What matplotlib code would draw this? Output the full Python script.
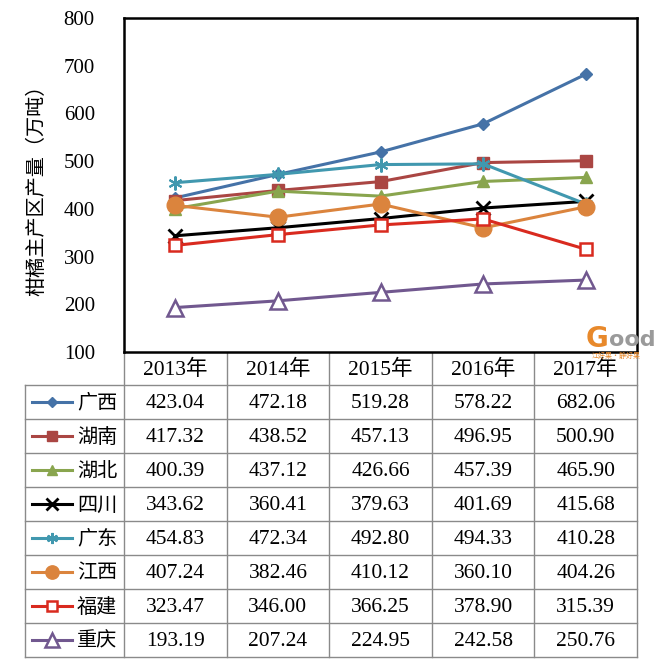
import matplotlib.pyplot as plt
from matplotlib.lines import Line2D

years = ['2013年', '2014年', '2015年', '2016年', '2017年']
regions = ['广西', '湖南', '湖北', '四川', '广东', '江西', '福建', '重庆']
guangxi = [423.04, 472.18, 519.28, 578.22, 682.06]
hunan = [417.32, 438.52, 457.13, 496.95, 500.90]
hubei = [400.39, 437.12, 426.66, 457.39, 465.90]
sichuan = [343.62, 360.41, 379.63, 401.69, 415.68]
guangdong = [454.83, 472.34, 492.80, 494.33, 410.28]
jiangxi = [407.24, 382.46, 410.12, 360.10, 404.26]
fujian = [323.47, 346.00, 366.25, 378.90, 315.39]
chongqing = [193.19, 207.24, 224.95, 242.58, 250.76]
series = [guangxi, hunan, hubei, sichuan, guangdong, jiangxi, fujian, chongqing]
yticks = [100, 200, 300, 400, 500, 600, 700, 800]

# styles per series
styles = [
    dict(color='#4572A7', marker='D', ms=6, mfc='#4572A7', mec='#4572A7'),
    dict(color='#AA4643', marker='s', ms=9, mfc='#AA4643', mec='#AA4643'),
    dict(color='#89A54E', marker='^', ms=9, mfc='#89A54E', mec='#89A54E'),
    dict(color='#000000', marker='x', ms=10, mfc='none', mec='#000000', mew=2),
    dict(color='#4198AF', marker=(6, 2, 0), ms=10, mfc='none', mec='#4198AF', mew=1.5),
    dict(color='#DB843D', marker='o', ms=12, mfc='#DB843D', mec='#DB843D'),
    dict(color='#D92A1F', marker='s', ms=9, mfc='white', mec='#D92A1F', mew=1.8),
    dict(color='#71588F', marker='^', ms=12, mfc='white', mec='#71588F', mew=1.8),
]

W, H = 660, 671
SERIF = ['Liberation Serif', 'Noto Sans CJK SC']
CJK = ['Noto Sans CJK SC', 'DejaVu Sans']

fig = plt.figure(figsize=(W / 100, H / 100), dpi=100)
fig.patch.set_facecolor('white')

# plot area in pixel coordinates
left, right, top, bottom = 124, 637, 18, 352
ax = fig.add_axes([left / W, 1 - bottom / H, (right - left) / W, (bottom - top) / H])
xs = [i + 0.5 for i in range(len(years))]
for vals, st in zip(series, styles):
    ax.plot(xs, vals, lw=2.2, zorder=3, **st)
ax.set_xlim(0, len(years))
ax.set_ylim(100, 800)
ax.set_yticks(yticks)
ax.set_yticklabels([str(v) for v in yticks], family=SERIF, fontsize=15)
ax.tick_params(axis='y', length=0, pad=21)
ax.set_xticks([])
for sp in ax.spines.values():
    sp.set_linewidth(1.8)
ax.set_ylabel('柑橘主产区产量（万吨）', family=CJK, fontsize=14.5, labelpad=12)

# table below the plot, drawn in pixel space
tab = fig.add_axes([0, 0, 1, 1], zorder=-1)
tab.set_xlim(0, W)
tab.set_ylim(H, 0)
tab.axis('off')

gray = '#8a8a8a'
col_w = (right - left) / len(years)
head_h = 33
row_h = 34
tab_left = 25
rows_top = bottom + head_h
rows_bot = rows_top + row_h * len(regions)

for i in range(len(years) + 1):
    x = left + i * col_w
    tab.plot([x, x], [bottom, rows_bot], color=gray, lw=1)
tab.plot([tab_left, tab_left], [rows_top, rows_bot], color=gray, lw=1)
for j in range(len(regions) + 1):
    y = rows_top + j * row_h
    tab.plot([tab_left, right], [y, y], color=gray, lw=1)
for i, yr in enumerate(years):
    tab.text(left + (i + 0.5) * col_w, bottom + head_h / 2 + 1, yr,
             ha='center', va='center', family=SERIF, fontsize=15.5)

for j, (name, vals, st) in enumerate(zip(regions, series, styles)):
    yc = rows_top + (j + 0.5) * row_h
    tab.add_line(Line2D([32, 72], [yc, yc], lw=2.2, color=st['color']))
    sm = dict(st)
    sm['ms'] = st['ms'] * 0.8
    sm.pop('color')
    tab.add_line(Line2D([52], [yc], color=st['color'], ls='none', **sm))
    tab.text(97, yc + 1, name, ha='center', va='center', family=CJK, fontsize=14.5)
    for i, v in enumerate(vals):
        tab.text(left + (i + 0.5) * col_w, yc + 1, f'{v:.2f}',
                 ha='center', va='center', family=SERIF, fontsize=15.5)

# watermark logo
fig.text(586 / W, 1 - 347 / H, 'G', color='#E8892B', fontsize=20, fontweight='bold')
fig.text(609 / W, 1 - 346 / H, 'ood', color='#9a9a9a', fontsize=16, fontweight='bold')
fig.text(592 / W, 1 - 358 / H, '江好果·静好果', color='#E8892B', fontsize=5, family=CJK)

fig.savefig('out.png', dpi=100)
